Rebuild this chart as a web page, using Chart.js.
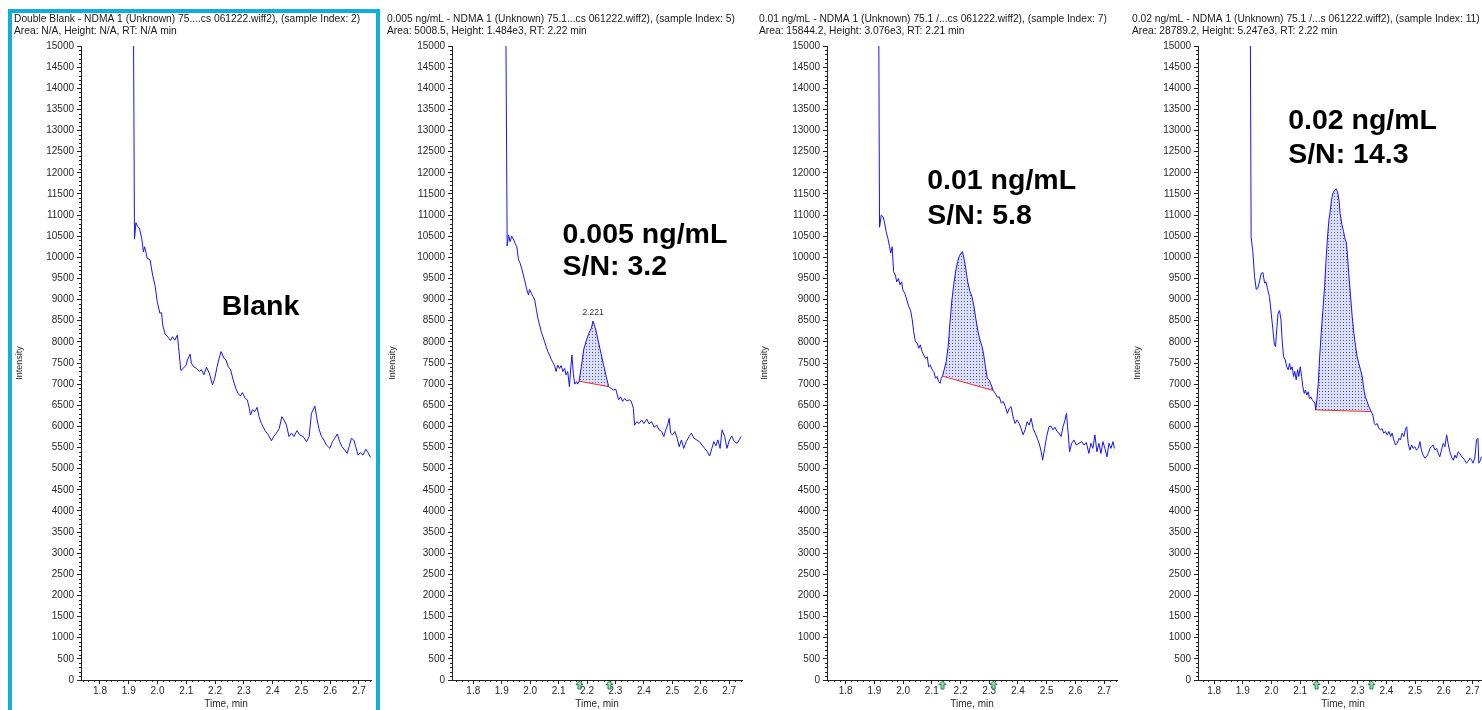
<!DOCTYPE html>
<html>
<head>
<meta charset="utf-8">
<script src="https://cdn.jsdelivr.net/npm/chart.js@4.4.1/dist/chart.umd.min.js"></script>
<style>
  html, body { margin: 0; padding: 0; background: #fff; }
  body { position: relative; width: 1482px; height: 710px; overflow: hidden; }
  canvas { position: absolute; top: 0; }
  #selected { position: absolute; left: 8px; top: 9px; width: 364px; height: 720px;
              border: 4px solid #12ade0; pointer-events: none; }
</style>
</head>
<body>
<canvas id="c0" width="373" height="710" style="left:14px"></canvas>
<canvas id="c1" width="373" height="710" style="left:387px"></canvas>
<canvas id="c2" width="373" height="710" style="left:759px"></canvas>
<canvas id="c3" width="373" height="710" style="left:1132px"></canvas>
<div id="selected"></div>
<script>
Chart.defaults.font.family = "'Liberation Sans', Arial, sans-serif";
Chart.defaults.color = '#2a2a2a';

const headers = [
  ['Double Blank - NDMA 1 (Unknown) 75....cs 061222.wiff2), (sample Index: 2)', 'Area: N/A, Height: N/A, RT: N/A min'],
  ['0.005 ng/mL - NDMA 1 (Unknown) 75.1...cs 061222.wiff2), (sample Index: 5)', 'Area: 5008.5, Height: 1.484e3, RT: 2.22 min'],
  ['0.01 ng/mL - NDMA 1 (Unknown) 75.1 /...cs 061222.wiff2), (sample Index: 7)', 'Area: 15844.2, Height: 3.076e3, RT: 2.21 min'],
  ['0.02 ng/mL - NDMA 1 (Unknown) 75.1 /...s 061222.wiff2), (sample Index: 11)', 'Area: 28789.2, Height: 5.247e3, RT: 2.22 min']
];

// XIC traces, time (min) / intensity (cps)
const blankTime = [1.916,1.920,1.925,1.931,1.937,1.945,1.951,1.955,1.960,1.964,1.974,1.983,1.992,1.999,2.008,2.014,2.018,2.026,2.037,2.045,2.052,2.060,2.069,2.073,2.081,2.089,2.099,2.104,2.113,2.118,2.126,2.136,2.145,2.153,2.161,2.170,2.180,2.191,2.199,2.207,2.214,2.221,2.231,2.238,2.246,2.254,2.263,2.272,2.280,2.288,2.295,2.305,2.312,2.319,2.323,2.330,2.338,2.346,2.353,2.361,2.367,2.374,2.385,2.396,2.404,2.413,2.423,2.432,2.440,2.448,2.457,2.466,2.474,2.485,2.494,2.506,2.518,2.527,2.535,2.547,2.555,2.562,2.570,2.578,2.587,2.599,2.608,2.616,2.625,2.633,2.641,2.651,2.659,2.666,2.674,2.682,2.689,2.697,2.705,2.714,2.724,2.732,2.740];
const blankInt = [16000,10430,10820,10730,10690,10450,10130,10250,10110,9980,9940,9580,9310,8950,8680,8690,8400,8190,8110,8030,8120,8040,8160,7890,7320,7370,7450,7570,7710,7490,7410,7370,7300,7340,7220,7400,7260,6980,7140,7410,7610,7770,7610,7570,7410,7340,7100,6900,6780,6720,6800,6660,6630,6430,6270,6390,6350,6450,6230,6070,5990,5900,5800,5660,5760,5840,5950,6230,6150,6030,5760,5840,5760,5900,5800,5760,5640,5760,6310,6480,6150,5920,5760,5680,5560,5480,5640,5720,5820,5640,5520,5440,5360,5520,5720,5680,5520,5320,5380,5320,5460,5380,5270];

const s005Time = [1.914,1.919,1.924,1.929,1.935,1.941,1.947,1.953,1.959,1.964,1.970,1.976,1.982,1.988,1.994,1.998,2.004,2.010,2.016,2.022,2.027,2.033,2.039,2.045,2.051,2.056,2.062,2.068,2.074,2.080,2.086,2.091,2.097,2.103,2.109,2.115,2.121,2.126,2.132,2.138,2.143,2.147,2.152,2.157,2.163,2.167,2.172,2.180,2.188,2.196,2.206,2.215,2.221,2.231,2.241,2.249,2.257,2.266,2.276,2.285,2.293,2.301,2.311,2.318,2.325,2.332,2.340,2.348,2.355,2.363,2.367,2.375,2.383,2.392,2.400,2.410,2.418,2.427,2.436,2.445,2.453,2.462,2.470,2.477,2.485,2.489,2.494,2.501,2.509,2.517,2.524,2.532,2.540,2.549,2.559,2.567,2.576,2.586,2.595,2.604,2.614,2.623,2.631,2.639,2.646,2.653,2.660,2.668,2.675,2.684,2.692,2.701,2.709,2.718,2.728,2.736,2.742];
const s005Int = [16000,10270,10530,10370,10500,10430,10330,10250,9940,9870,9740,9580,9420,9240,9110,9240,9150,9070,8990,8750,8560,8400,8240,8120,8000,7890,7770,7690,7590,7510,7430,7300,7450,7370,7440,7300,7370,7220,7300,6940,7410,7690,7220,7000,7060,7000,7070,7410,7810,8000,8200,8320,8493,8280,7970,7730,7490,7220,6940,6900,6860,6880,6630,6700,6590,6660,6600,6630,6600,6430,6030,6110,6070,6150,6070,6170,6060,6110,5980,6030,5920,5880,5760,5920,6070,6190,5840,5800,5880,5720,5520,5680,5480,5640,5760,5840,5720,5680,5640,5560,5480,5400,5300,5480,5640,5540,5680,5480,5920,5760,5480,5680,5770,5640,5600,5690,5760];

const s01Time = [1.915,1.918,1.924,1.930,1.935,1.941,1.947,1.953,1.957,1.962,1.967,1.973,1.978,1.984,1.989,1.995,1.999,2.006,2.013,2.020,2.026,2.032,2.037,2.043,2.049,2.055,2.060,2.066,2.072,2.078,2.084,2.089,2.095,2.101,2.107,2.113,2.118,2.124,2.129,2.133,2.137,2.143,2.150,2.157,2.163,2.170,2.177,2.184,2.190,2.196,2.202,2.207,2.213,2.219,2.225,2.233,2.240,2.247,2.254,2.261,2.268,2.275,2.280,2.286,2.293,2.300,2.307,2.314,2.321,2.328,2.335,2.342,2.349,2.356,2.363,2.370,2.376,2.383,2.390,2.397,2.404,2.411,2.418,2.425,2.432,2.439,2.446,2.453,2.460,2.467,2.474,2.481,2.486,2.493,2.500,2.508,2.515,2.522,2.529,2.536,2.543,2.550,2.557,2.564,2.569,2.573,2.580,2.587,2.595,2.603,2.613,2.622,2.630,2.638,2.647,2.654,2.661,2.668,2.675,2.682,2.689,2.696,2.703,2.710,2.717,2.724,2.731,2.736];
const s01Int = [16000,10710,11000,10960,10840,10610,10450,10250,10100,10250,9660,9580,9420,9500,9350,9420,9230,9150,8990,8830,8750,8520,8240,8000,7970,7850,7930,7770,7690,7610,7650,7410,7450,7340,7300,7140,7180,7060,7020,7140,7190,7340,7530,7890,8440,8990,9390,9700,9900,10030,10100,10132,9940,9700,9420,9190,9070,8830,8520,8240,8040,7890,7730,7450,7140,7100,6980,6850,6780,6690,6700,6550,6590,6470,6310,6430,6470,6230,6070,6150,6070,5950,5800,5920,6110,6030,6190,5950,5840,5720,5600,5400,5200,5480,5760,5990,6010,5920,5980,5880,5840,5760,5990,6150,6310,5990,5400,5600,5680,5560,5600,5640,5560,5620,5360,5600,5480,5800,5400,5600,5360,5640,5480,5280,5600,5480,5640,5480];

const s02Time = [1.926,1.929,1.935,1.941,1.947,1.952,1.958,1.964,1.970,1.976,1.981,1.987,1.993,1.999,2.005,2.010,2.014,2.019,2.023,2.028,2.033,2.037,2.042,2.048,2.053,2.058,2.063,2.067,2.072,2.077,2.081,2.086,2.091,2.095,2.100,2.105,2.109,2.114,2.118,2.123,2.128,2.132,2.137,2.142,2.146,2.151,2.154,2.158,2.163,2.167,2.173,2.179,2.185,2.190,2.196,2.200,2.204,2.209,2.214,2.219,2.225,2.230,2.235,2.239,2.245,2.251,2.257,2.260,2.264,2.269,2.275,2.281,2.287,2.293,2.298,2.304,2.310,2.316,2.322,2.327,2.333,2.339,2.347,2.353,2.358,2.362,2.368,2.374,2.380,2.385,2.391,2.397,2.403,2.409,2.415,2.420,2.426,2.432,2.438,2.444,2.449,2.455,2.461,2.467,2.471,2.476,2.482,2.488,2.493,2.499,2.505,2.511,2.517,2.522,2.528,2.534,2.540,2.546,2.552,2.557,2.563,2.569,2.575,2.581,2.586,2.592,2.598,2.604,2.610,2.615,2.621,2.627,2.633,2.639,2.644,2.650,2.656,2.662,2.668,2.673,2.679,2.685,2.691,2.697,2.702,2.708,2.714,2.719,2.722,2.728,2.731];
const s02Int = [16000,10490,10130,9540,9240,9270,9420,9620,9640,9390,9420,9230,9070,8680,8280,7930,7890,8360,8680,8740,8520,8040,7650,7570,7410,7340,7490,7340,7410,7180,7300,7100,7340,7180,7410,7180,6940,6780,6860,6740,6820,6660,6700,6630,6590,6550,6390,6630,7020,7570,8200,8750,9310,9940,10570,10880,11080,11360,11520,11580,11622,11550,11360,11040,10770,10610,10410,10370,10100,9620,9110,8600,8200,7890,7650,7490,7340,7180,6860,6700,6590,6470,6350,6270,6070,6030,6070,5950,5920,5950,5840,5880,5800,5880,5760,5840,5680,5560,5600,5720,5680,5840,5760,5950,5990,5600,5440,5560,5480,5520,5440,5480,5640,5440,5320,5250,5280,5360,5480,5520,5560,5440,5480,5360,5280,5440,5600,5520,5800,5600,5400,5280,5200,5320,5250,5400,5360,5280,5250,5200,5130,5170,5250,5200,5130,5250,5680,5720,5130,5200,5280];

// integration window (min) and apex label per sample
const peakStart = [null, 2.172, 2.137, 2.154];
const peakEnd = [null, 2.276, 2.314, 2.347];
const apexLabel = [null, '2.221', null, null];
const noteLines = [['Blank'], ['0.005 ng/mL', 'S/N: 3.2'], ['0.01 ng/mL', 'S/N: 5.8'], ['0.02 ng/mL', 'S/N: 14.3']];
const timeRanges = [[1.734, 2.742], [1.725, 2.745], [1.735, 2.745], [1.744, 2.754]];
const intensityMax = 15000;
const intensityStep = 500;

const panels = [
  { id: 'c0', time: blankTime, inten: blankInt, axisW: 67, padR: 16, note: { x: 2.223, y: [8636] } },
  { id: 'c1', time: s005Time, inten: s005Int, axisW: 65, padR: 18, note: { x: 2.114, y: [10339, 9582] } },
  { id: 'c2', time: s01Time, inten: s01Int, axisW: 68, padR: 15, note: { x: 2.084, y: [11610, 10789] } },
  { id: 'c3', time: s02Time, inten: s02Int, axisW: 66, padR: 17, note: { x: 2.058, y: [13029, 12225] } }
];

function dotPattern() {
  const c = document.createElement('canvas');
  c.width = 3; c.height = 3;
  const g = c.getContext('2d');
  g.fillStyle = '#dcdff9';
  g.fillRect(0, 0, 3, 3);
  g.fillStyle = '#4f59d8';
  g.fillRect(1, 1, 1, 1);
  return g.createPattern(c, 'repeat');
}

function extrasPlugin(i, note) {
  return {
    id: 'extras',
    afterDraw(chart) {
      const { ctx, chartArea: a, scales: { x, y } } = chart;
      ctx.save();

      // minor ticks: 100 cps and 0.02 min
      ctx.strokeStyle = '#222';
      ctx.lineWidth = 1;
      ctx.beginPath();
      for (let k = 1; k < intensityMax / 100; k++) {
        if (k % 5 === 0) continue;
        const py = Math.round(y.getPixelForValue(k * 100)) + 0.5;
        ctx.moveTo(a.left - 2, py);
        ctx.lineTo(a.left, py);
      }
      for (let k = Math.ceil(x.min * 50); k <= Math.floor(x.max * 50); k++) {
        if (k % 5 === 0) continue;
        const px = Math.round(x.getPixelForValue(k / 50)) + 0.5;
        ctx.moveTo(px, a.bottom);
        ctx.lineTo(px, a.bottom + 2);
      }
      ctx.stroke();

      // integration markers under the time axis
      if (peakStart[i] != null) {
        [peakStart[i], peakEnd[i]].forEach(t => {
          const px = Math.round(x.getPixelForValue(t)) + 0.5;
          const y0 = a.bottom + 1;
          ctx.beginPath();
          ctx.moveTo(px, y0);
          ctx.lineTo(px + 3.5, y0 + 3.5);
          ctx.lineTo(px + 1.5, y0 + 3.5);
          ctx.lineTo(px + 1.5, y0 + 8);
          ctx.lineTo(px - 1.5, y0 + 8);
          ctx.lineTo(px - 1.5, y0 + 3.5);
          ctx.lineTo(px - 3.5, y0 + 3.5);
          ctx.closePath();
          ctx.fillStyle = '#8fe3a8';
          ctx.fill();
          ctx.strokeStyle = '#2e7d4f';
          ctx.stroke();
        });
      }

      // retention time above the apex
      if (apexLabel[i]) {
        const rt = parseFloat(apexLabel[i]);
        const idx = panels[i].time.indexOf(rt);
        ctx.font = "8.5px 'Liberation Sans', Arial, sans-serif";
        ctx.fillStyle = '#333';
        ctx.textAlign = 'center';
        ctx.textBaseline = 'alphabetic';
        ctx.fillText(apexLabel[i], x.getPixelForValue(rt), y.getPixelForValue(panels[i].inten[idx]) - 6);
      }

      // concentration / S/N note
      ctx.font = "bold 28.5px 'Liberation Sans', Arial, sans-serif";
      ctx.fillStyle = '#000';
      ctx.textAlign = 'left';
      ctx.textBaseline = 'alphabetic';
      noteLines[i].forEach((line, k) => {
        ctx.fillText(line, x.getPixelForValue(note.x), y.getPixelForValue(note.y[k]));
      });
      ctx.restore();
    }
  };
}

panels.forEach((p, i) => {
  const trace = p.time.map((t, k) => ({ x: t, y: p.inten[k] }));
  // lower order is drawn later, so the trace ends up on top
  const datasets = [{
    data: trace,
    order: -2,
    borderColor: '#1414ff',
    borderWidth: 1,
    pointRadius: 0,
    tension: 0,
    fill: false
  }];

  if (peakStart[i] != null) {
    const s = p.time.indexOf(peakStart[i]);
    const e = p.time.indexOf(peakEnd[i]);
    datasets.push({
      data: trace.slice(s, e + 1),
      order: 0,
      borderWidth: 0,
      pointRadius: 0,
      backgroundColor: dotPattern(),
      fill: '+1'
    });
    datasets.push({
      data: [trace[s], trace[e]],
      order: -1,
      borderColor: '#ff2a2a',
      borderWidth: 1,
      pointRadius: 0,
      fill: false
    });
  }

  new Chart(document.getElementById(p.id), {
    type: 'line',
    data: { datasets },
    plugins: [extrasPlugin(i, p.note)],
    options: {
      responsive: false,
      animation: false,
      events: [],
      layout: { padding: { left: 0, right: p.padR, top: 0, bottom: 0 } },
      plugins: {
        legend: { display: false },
        tooltip: { enabled: false },
        title: {
          display: true,
          text: headers[i],
          align: 'start',
          color: '#1a1a1a',
          font: { size: 10.25, weight: 'normal', lineHeight: 1.2 },
          padding: { top: 13, bottom: 8.4 }
        }
      },
      scales: {
        x: {
          type: 'linear',
          min: timeRanges[i][0],
          max: timeRanges[i][1],
          border: { display: true, color: '#222', width: 1 },
          grid: { drawOnChartArea: false, drawTicks: true, tickLength: 4, color: '#222' },
          ticks: {
            stepSize: 0.1,
            includeBounds: false,
            autoSkip: false,
            maxRotation: 0,
            padding: 1,
            color: '#2a2a2a',
            font: { size: 10 },
            callback: v => v.toFixed(1)
          },
          title: { display: true, text: 'Time, min', color: '#2a2a2a', font: { size: 10 }, padding: { top: 0, bottom: 0 } },
          afterFit: s => { s.height = 30; }
        },
        y: {
          min: 0,
          max: intensityMax,
          border: { display: true, color: '#222', width: 1 },
          grid: { drawOnChartArea: false, drawTicks: true, tickLength: 4, color: '#222' },
          ticks: {
            stepSize: intensityStep,
            autoSkip: false,
            padding: 3,
            color: '#2a2a2a',
            font: { size: 10 },
            callback: v => String(v)
          },
          title: { display: true, text: 'Intensity', color: '#2a2a2a', font: { size: 9 }, padding: { top: 0, bottom: 0 } },
          afterFit: s => { s.width = p.axisW; }
        }
      }
    }
  });
});
</script>
</body>
</html>
